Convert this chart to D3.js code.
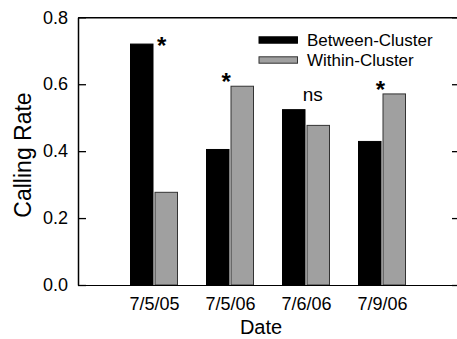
<!DOCTYPE html>
<html><head><meta charset="utf-8">
<script src="https://cdn.jsdelivr.net/npm/d3@7"></script>
<style>body{margin:0;background:#fff}svg{display:block}text{font-family:"Liberation Sans",Arial,sans-serif;fill:#000}</style>
</head><body><svg id="c" width="457" height="339"></svg>
<script>
const categories = ["7/5/05", "7/5/06", "7/6/06", "7/9/06"];
const seriesNames = ["Between-Cluster", "Within-Cluster"];
const betweenValues = [0.72, 0.405, 0.524, 0.429];
const withinValues = [0.277, 0.594, 0.477, 0.571];
const yTicks = [0.0, 0.2, 0.4, 0.6, 0.8];
const yTickLabels = ["0.0", "0.2", "0.4", "0.6", "0.8"];
const annotLabels = ["*", "*", "ns", "*"];
const annotX = [1.10, 1.95, 3.09, 3.98];
const annotY = [0.731, 0.622, 0.566, 0.60];

(function () {
const svg = d3.select("#c");
const x = d3.scaleLinear().domain([0, 5]).range([78, 458]);
const y = d3.scaleLinear().domain([0, 0.8]).range([285, 17.3]);
const barW = 22.5, gap = 2;
const fills = ["#000000", "#a0a0a0"];
const strokes = ["#000000", "#333333"];

[betweenValues, withinValues].forEach((vals, s) => {
  svg.append("g").selectAll("rect").data(vals).join("rect")
    .attr("x", (d, i) => s === 0 ? x(i + 1) - gap / 2 - barW : x(i + 1) + gap / 2)
    .attr("y", d => y(d))
    .attr("width", barW)
    .attr("height", d => y(0) - y(d))
    .attr("fill", fills[s])
    .attr("stroke", strokes[s])
    .attr("stroke-width", 1);
});

const gLeft = svg.append("g").attr("transform", `translate(${x(0)},0)`)
  .call(d3.axisLeft(y).tickValues(yTicks).tickFormat((d, i) => yTickLabels[i]).tickSizeInner(-8).tickSizeOuter(0).tickPadding(10));
const gRight = svg.append("g").attr("transform", `translate(${x(5)},0)`)
  .call(d3.axisRight(y).tickValues(yTicks).tickFormat("").tickSizeInner(-6).tickSizeOuter(0));
const gTop = svg.append("g").attr("transform", `translate(0,${y(0.8)})`)
  .call(d3.axisTop(x).tickValues([]).tickSizeOuter(0));
const gBottom = svg.append("g").attr("transform", `translate(0,${y(0)})`)
  .call(d3.axisBottom(x).tickValues([1, 2, 3, 4]).tickFormat((d, i) => categories[i]).tickSize(0).tickPadding(12));
[gLeft, gRight, gTop, gBottom].forEach(g => {
  g.selectAll(".domain").attr("stroke", "#000").attr("stroke-width", 1.5);
  g.selectAll(".tick line").attr("stroke", "#000").attr("stroke-width", 1.3);
  g.selectAll("text").style("font-size", "18px").attr("fill", "#000");
});
gBottom.selectAll(".domain").attr("stroke-width", 1.2);
gBottom.selectAll("text").attr("dy", "0.71em");

svg.append("text").attr("x", 261).attr("y", 333.5).attr("text-anchor", "middle")
  .style("font-size", "20px").text("Date");
svg.append("text").attr("transform", "translate(31,155) rotate(-90)").attr("text-anchor", "middle")
  .style("font-size", "23px").text("Calling Rate");

svg.append("g").selectAll("text").data(annotLabels).join("text")
  .attr("x", (d, i) => x(annotX[i]))
  .attr("y", (d, i) => y(annotY[i]) + (d === "*" ? 13.5 : 5))
  .attr("text-anchor", "middle")
  .style("font-size", d => d === "*" ? "24px" : "19px")
  .style("font-weight", d => d === "*" ? "bold" : "normal")
  .text(d => d);

const lg = svg.append("g").selectAll("g").data(seriesNames).join("g")
  .attr("transform", (d, i) => `translate(259,${40 + i * 20})`);
lg.append("rect").attr("x", 0).attr("y", -3.2).attr("width", 38.5).attr("height", 6.4)
  .attr("fill", (d, i) => fills[i]).attr("stroke", (d, i) => strokes[i]).attr("stroke-width", 1);
lg.append("text").attr("x", 48).attr("y", 5.8).style("font-size", "17px").text(d => d);
})();
</script></body></html>
